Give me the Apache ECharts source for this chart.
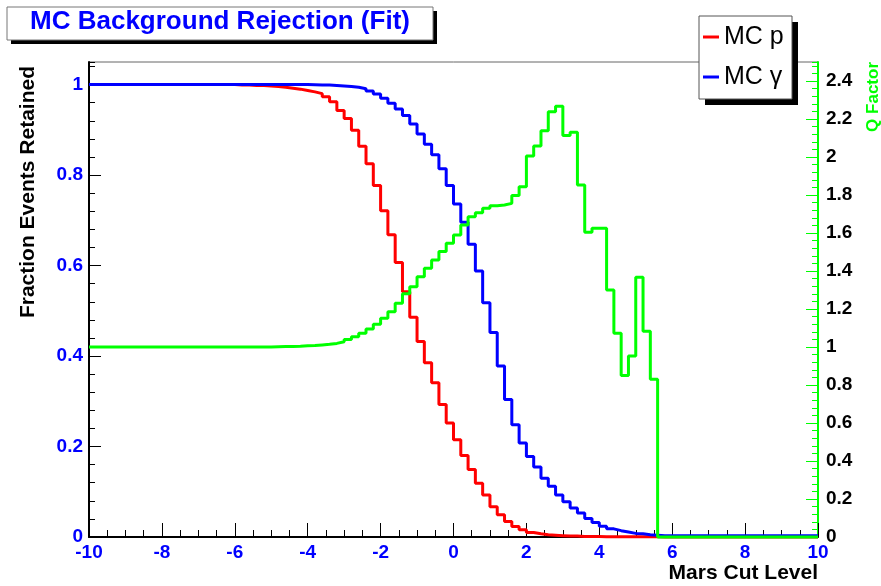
<!DOCTYPE html>
<html><head><meta charset="utf-8">
<script src="https://cdn.jsdelivr.net/npm/echarts@6/dist/echarts.min.js"></script>
<style>html,body{margin:0;padding:0;background:#fff}#c{width:881px;height:586px}</style>
</head><body><div id="c"></div>
<script>
// ---- data (100 bins of width 0.2 from -10 to 10) ----
const binStart = -10;
const binWidth = 0.2;
const mcP = [
  1,1,1,1,1,1,1,1,1,1,
  1,1,1,1,1,1,1,1,1,1,
  0.999,0.999,0.998,0.998,0.997,0.996,0.994,0.992,0.990,0.987,
  0.984,0.980,0.973,0.962,0.943,0.925,0.899,0.864,0.825,0.777,
  0.721,0.668,0.607,0.542,0.486,0.432,0.385,0.341,0.293,0.252,
  0.215,0.180,0.149,0.119,0.093,0.067,0.049,0.034,0.023,0.016,
  0.010,0.007,0.005,0.004,0.003,0.002,0.002,0.001,0.001,0.001,
  0.0005,0.0005,0.0005,0.0005,0.0005,0.0005,0.0005,0.0005,0,0,
  0,0,0,0,0,0,0,0,0,0,
  0,0,0,0,0,0,0,0,0,0
];
const mcGamma = [
  1,1,1,1,1,1,1,1,1,1,
  1,1,1,1,1,1,1,1,1,1,
  1,1,1,1,1,1,1,1,1,1,
  0.9995,0.999,0.999,0.998,0.997,0.996,0.994,0.991,0.986,0.979,
  0.970,0.959,0.946,0.932,0.913,0.891,0.868,0.845,0.814,0.777,
  0.736,0.696,0.647,0.588,0.518,0.452,0.378,0.304,0.248,0.208,
  0.178,0.155,0.130,0.112,0.093,0.078,0.064,0.053,0.041,0.032,
  0.024,0.018,0.014,0.011,0.008,0.007,0.005,0.004,0.003,0.003,
  0.003,0.003,0.003,0.003,0.003,0.003,0.003,0.003,0.003,0.003,
  0.003,0.003,0.003,0.003,0.003,0.003,0.003,0.003,0.003,0.003
];
const qFactor = [
  1,1,1,1,1,1,1,1,1,1,
  1,1,1,1,1,1,1,1,1,1,
  1,1,1,1,1,1.001,1.002,1.003,1.004,1.006,
  1.008,1.011,1.014,1.019,1.028,1.040,1.054,1.072,1.095,1.120,
  1.151,1.186,1.230,1.280,1.317,1.370,1.414,1.458,1.502,1.546,
  1.589,1.642,1.686,1.707,1.730,1.744,1.747,1.756,1.798,1.844,
  2.005,2.058,2.138,2.238,2.267,2.113,2.130,1.853,1.604,1.625,
  1.625,1.300,1.072,0.850,0.953,1.367,1.083,0.830,0,0,
  0,0,0,0,0,0,0,0,0,0,
  0,0,0,0,0,0,0,0,0,0
];
const leftTicks = [0, 0.2, 0.4, 0.6, 0.8, 1];
const rightTicks = [0, 0.2, 0.4, 0.6, 0.8, 1, 1.2, 1.4, 1.6, 1.8, 2, 2.2, 2.4];
const seriesNames = ['MC p', 'MC \u03b3', 'Q Factor'];

// histogram -> step-line points at bin left edges, closing at the last edge
function steps(vals) {
  const pts = vals.map((v, i) => [binStart + binWidth * i, v]);
  pts.push([binStart + binWidth * vals.length, vals[vals.length - 1]]);
  return pts;
}

const FF = "'Liberation Sans', Arial, Helvetica, sans-serif";
const chart = echarts.init(document.getElementById('c'), null, {renderer: 'canvas'});

const labelStyle = (color) => ({color: color, fontWeight: 'bold', fontSize: 19, fontFamily: FF});

chart.setOption({
  animation: false,
  backgroundColor: '#fff',
  title: {
    text: 'MC Background Rejection (Fit)',
    left: 220, top: 9, textAlign: 'center', padding: 0, z: 20,
    textStyle: {color: '#0000ff', fontWeight: 'bold', fontSize: 26, fontFamily: FF}
  },
  legend: {
    orient: 'vertical', left: 699, top: 16, padding: [7, 4, 8, 4],
    itemWidth: 16, itemHeight: 3, itemGap: 12, icon: 'rect', selectedMode: false, z: 20,
    data: [seriesNames[0], seriesNames[1]],
    textStyle: {fontSize: 25, color: '#000', fontFamily: FF, lineHeight: 28}
  },
  grid: {left: 89, right: 63, top: 62, bottom: 49, show: true, borderColor: '#666', borderWidth: 1,
         backgroundColor: 'transparent', containLabel: false, outerBoundsMode: 'none'},
  xAxis: {
    type: 'value', min: -10, max: 10, interval: 2,
    axisLine: {show: true, onZero: false, lineStyle: {color: '#000', width: 2}},
    axisTick: {show: true, inside: true, length: 14, lineStyle: {color: '#000', width: 1}},
    minorTick: {show: true, splitNumber: 4, length: 7, lineStyle: {color: '#000', width: 1}},
    axisLabel: Object.assign({margin: 6}, labelStyle('#0000ff')),
    splitLine: {show: false}
  },
  yAxis: [
    {
      type: 'value', min: 0, max: 1.05, interval: 0.2, position: 'left',
      axisLine: {show: true, onZero: false, lineStyle: {color: '#000', width: 2}},
      axisTick: {show: true, inside: true, length: 12, customValues: leftTicks, lineStyle: {color: '#000'}},
      axisLabel: Object.assign({margin: 6, customValues: leftTicks}, labelStyle('#0000ff')),
      splitLine: {show: false}
    },
    {
      type: 'value', min: 0, max: 1.05, interval: 0.04, position: 'left',
      axisLine: {show: false, onZero: false}, axisLabel: {show: false}, splitLine: {show: false},
      axisTick: {show: true, inside: true, length: 6, lineStyle: {color: '#000'}}
    },
    {
      type: 'value', min: 0, max: 2.5, interval: 0.2, position: 'right',
      axisLine: {show: true, onZero: false, lineStyle: {color: '#00ff00', width: 2}},
      axisTick: {show: true, inside: true, length: 12, customValues: rightTicks, lineStyle: {color: '#00ff00'}},
      axisLabel: Object.assign({margin: 8, customValues: rightTicks}, labelStyle('#000')),
      splitLine: {show: false}
    },
    {
      type: 'value', min: 0, max: 2.5, interval: 0.04, position: 'right',
      axisLine: {show: false, onZero: false}, axisLabel: {show: false}, splitLine: {show: false},
      axisTick: {show: true, inside: true, length: 6, lineStyle: {color: '#00ff00'}}
    }
  ],
  series: [
    {name: seriesNames[0], type: 'line', step: 'end', yAxisIndex: 0, data: steps(mcP),
     symbol: 'none', clip: false, silent: true, z: 3,
     lineStyle: {color: '#ff0000', width: 3}, itemStyle: {color: '#ff0000'}},
    {name: seriesNames[1], type: 'line', step: 'end', yAxisIndex: 0, data: steps(mcGamma),
     symbol: 'none', clip: false, silent: true, z: 4,
     lineStyle: {color: '#0000ff', width: 3}, itemStyle: {color: '#0000ff'}},
    {name: seriesNames[2], type: 'line', step: 'end', yAxisIndex: 2, data: steps(qFactor),
     symbol: 'none', clip: false, silent: true, z: 5,
     lineStyle: {color: '#00ff00', width: 3}, itemStyle: {color: '#00ff00'}}
  ],
  graphic: [
    {type: 'rect', z: 10, shape: {x: 11, y: 11, width: 426, height: 33}, style: {fill: '#000'}},
    {type: 'rect', z: 11, shape: {x: 7, y: 7, width: 426, height: 33}, style: {fill: '#fff', stroke: '#777', lineWidth: 1}},
    {type: 'rect', z: 10, shape: {x: 705, y: 22, width: 93, height: 83}, style: {fill: '#000'}},
    {type: 'rect', z: 11, shape: {x: 699, y: 16, width: 93, height: 83}, style: {fill: '#fff', stroke: '#555', lineWidth: 1}},
    {type: 'text', z: 12, x: 28, y: 66, rotation: Math.PI / 2,
     style: {text: 'Fraction Events Retained', fill: '#000', fontWeight: 'bold', fontSize: 21, fontFamily: FF,
             align: 'right', verticalAlign: 'middle', textAlign: 'right', textVerticalAlign: 'middle'}},
    {type: 'text', z: 12, x: 873, y: 62, rotation: Math.PI / 2,
     style: {text: 'Q Factor', fill: '#00ff00', fontWeight: 'bold', fontSize: 17, fontFamily: FF,
             align: 'right', verticalAlign: 'middle', textAlign: 'right', textVerticalAlign: 'middle'}},
    {type: 'text', z: 12, x: 818, y: 573,
     style: {text: 'Mars Cut Level', fill: '#000', fontWeight: 'bold', fontSize: 21, fontFamily: FF,
             align: 'right', verticalAlign: 'middle', textAlign: 'right', textVerticalAlign: 'middle'}}
  ]
});
</script>
</body></html>
